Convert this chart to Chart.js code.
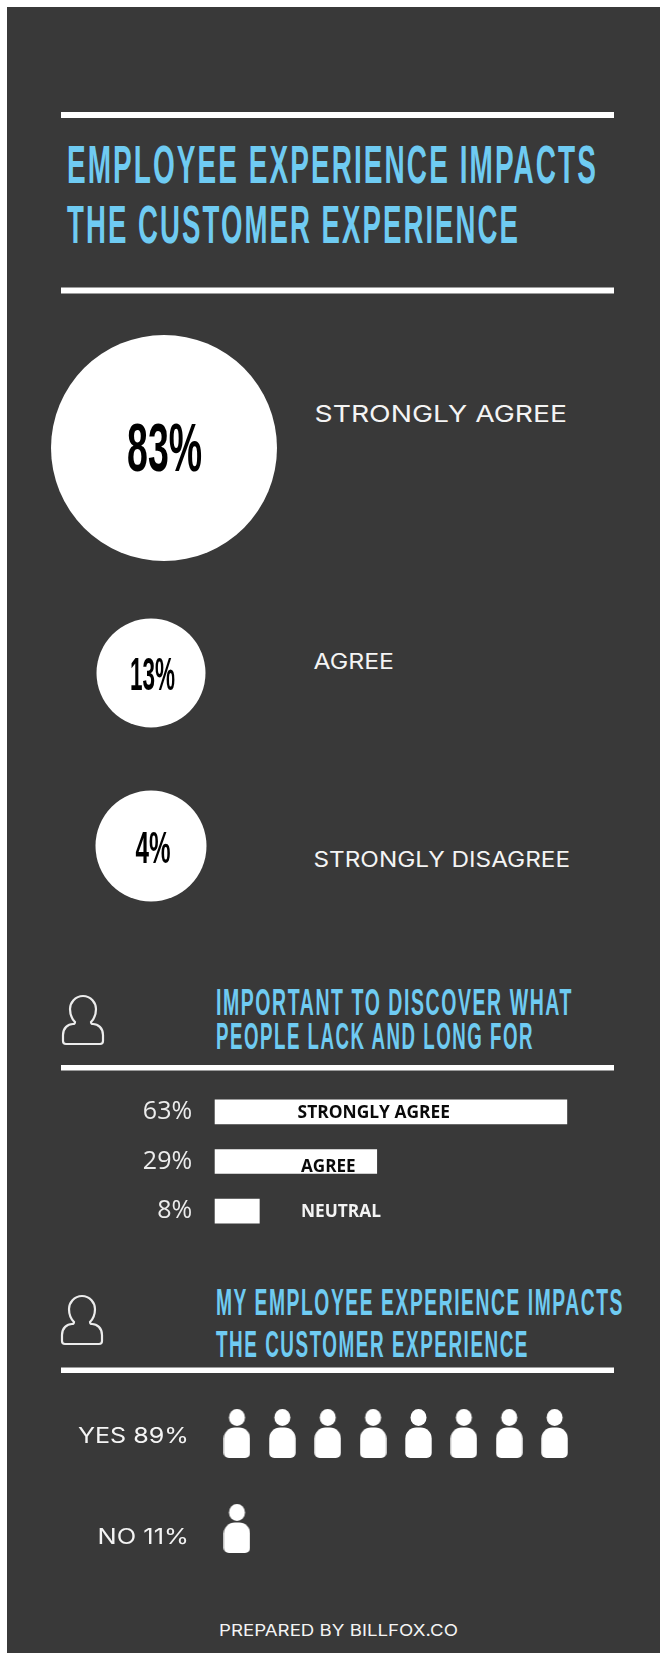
<!DOCTYPE html>
<html>
<head>
<meta charset="utf-8">
<script src="https://cdn.jsdelivr.net/npm/chart.js@4"></script>
<style>
  html, body { margin: 0; background: #fff; }
  #page { position: relative; width: 660px; height: 1653px; overflow: hidden; background: #fff; }
  #panel { position: absolute; left: 7px; top: 7px; right: 0; bottom: 0; background: #393939; }
  #page canvas, #page svg { position: absolute; }
</style>
</head>
<body>
<div id="page"><div id="panel"></div></div>
<script>
// Survey results
const headlineLines = ['EMPLOYEE EXPERIENCE IMPACTS', 'THE CUSTOMER EXPERIENCE'];
const bubbleCategories = ['STRONGLY AGREE', 'AGREE', 'STRONGLY DISAGREE'];
const bubbleValues = [83, 13, 4];

const lackLines = ['IMPORTANT TO DISCOVER WHAT', 'PEOPLE LACK AND LONG FOR'];
const lackCategories = ['STRONGLY AGREE', 'AGREE', 'NEUTRAL'];
const lackValues = [63, 29, 8];

const impactLines = ['MY EMPLOYEE EXPERIENCE IMPACTS', 'THE CUSTOMER EXPERIENCE'];
const impactCategories = ['YES', 'NO'];
const impactValues = [89, 11];
const impactIcons = [8, 1];

const footerText = 'PREPARED BY BILLFOX.CO';

// Shared look
const HEADING_BLUE = '#6fcbf2';
const INK = '#f4f4f4';
const DISPLAY = '"Liberation Sans"';
const WIDE = 'Inter';
const page = document.getElementById('page');

// Static text, rules and outline icons sit in one vector layer
const SVG_NS = 'http://www.w3.org/2000/svg';
const layer = document.createElementNS(SVG_NS, 'svg');
layer.setAttribute('width', 660);
layer.setAttribute('height', 1653);
layer.style.left = layer.style.top = '0';
page.appendChild(layer);

function svgEl(name, attrs) {
  const el = document.createElementNS(SVG_NS, name);
  for (const k in attrs) el.setAttribute(k, attrs[k]);
  layer.appendChild(el);
  return el;
}
function svgText(text, x, baseline, width, family, size, weight, fill, tracking) {
  const el = svgEl('text', {
    x, y: baseline, textLength: width, lengthAdjust: 'spacingAndGlyphs',
    'font-family': family.replace(/"/g, ''), 'font-size': size, 'font-weight': weight, fill,
    'letter-spacing': tracking || 0
  });
  el.textContent = text;
}
function rule(y, h) {
  svgEl('rect', { x: 61, y, width: 553, height: h, fill: '#fff' });
}
function outlinePerson(x, y) {
  svgEl('path', {
    transform: `translate(${x} ${y})`, fill: 'none', stroke: '#ececec', 'stroke-width': 2.2,
    d: 'M21 1C29 1 34 8 34 14C34 20 31 25 29 27C29 29 30 29 31 29C36 29 41 33 41 40L41 46Q41 49 38 49L4 49Q1 49 1 46L1 40C1 33 6 29 11 29C12 29 13 29 13 27C11 25 8 20 8 14C8 8 13 1 21 1Z'
  });
}

rule(112, 6);
rule(287.5, 6);
svgText(headlineLines[0], 67, 183, 531, DISPLAY, 54, 700, HEADING_BLUE, 4);
svgText(headlineLines[1], 67, 243, 453, DISPLAY, 54, 700, HEADING_BLUE, 4);

outlinePerson(62, 995);
svgText(lackLines[0], 216, 1015, 357, DISPLAY, 37, 700, HEADING_BLUE, 3);
svgText(lackLines[1], 216, 1048.5, 318, DISPLAY, 37, 700, HEADING_BLUE, 3);
rule(1065, 5.5);

outlinePerson(61, 1295);
svgText(impactLines[0], 216, 1315, 408, DISPLAY, 37, 700, HEADING_BLUE, 3);
svgText(impactLines[1], 216, 1357, 313, DISPLAY, 37, 700, HEADING_BLUE, 3);
rule(1367.5, 5.5);

svgText(footerText, 219, 1635.5, 239, WIDE, 16.5, 400, INK);

// Canvas text squeezed to a set width, the way the display type is set
function fitText(ctx, text, x, baseline, width, font, color) {
  ctx.save();
  ctx.font = font;
  ctx.fillStyle = color;
  ctx.textAlign = 'left';
  ctx.textBaseline = 'alphabetic';
  const natural = ctx.measureText(text).width;
  ctx.translate(x, baseline);
  ctx.scale(width / natural, 1);
  ctx.fillText(text, 0, 0);
  ctx.restore();
}

function addCanvas(left, top, width, height) {
  const c = document.createElement('canvas');
  c.width = width;
  c.height = height;
  c.style.left = left + 'px';
  c.style.top = top + 'px';
  c.style.width = width + 'px';
  c.style.height = height + 'px';
  page.appendChild(c);
  return c;
}

const baseOptions = {
  responsive: false,
  animation: false,
  events: [],
  plugins: { legend: { display: false }, tooltip: { enabled: false } }
};

// Top section: one circle per answer, each centred in its own small chart
const bubbleStyle = [
  { cx: 164,   cy: 447.5, r: 113,  labelW: 75, labelCap: 50, font: 69, dx: 0.6, dy: -2,
    nameX: 314.5, nameBase: 422, nameW: 252.5, nameSize: 23 },
  { cx: 150.5, cy: 673,   r: 54.5, labelW: 45, labelCap: 33, font: 46, dx: 1.5, dy: 0.5,
    nameX: 313.5, nameBase: 669, nameW: 80.5,  nameSize: 21 },
  { cx: 151,   cy: 846,   r: 55.5, labelW: 35, labelCap: 32, font: 45, dx: 2,   dy: 1,
    nameX: 313.5, nameBase: 867, nameW: 256.5, nameSize: 21 }
];

bubbleValues.forEach((value, i) => {
  const s = bubbleStyle[i];
  const half = Math.ceil(s.r) + 3;
  const canvas = addCanvas(s.cx - half, s.cy - half, half * 2, half * 2);
  svgText(bubbleCategories[i], s.nameX, s.nameBase, s.nameW, WIDE, s.nameSize, 400, INK);
  new Chart(canvas, {
    type: 'line',
    data: {
      labels: [bubbleCategories[i]],
      datasets: [{
        data: [value], showLine: false, clip: false,
        pointRadius: s.r, pointBackgroundColor: '#fff', pointBorderWidth: 0
      }]
    },
    options: {
      ...baseOptions,
      layout: { padding: 0, autoPadding: false },
      scales: {
        x: { display: false, offset: true },
        y: { display: false, min: 0, max: value * 2 }
      }
    },
    plugins: [{
      id: 'bubbleValue',
      afterDatasetsDraw(chart) {
        const pt = chart.getDatasetMeta(0).data[0];
        const text = value + '%';
        fitText(chart.ctx, text, pt.x + s.dx - s.labelW / 2, pt.y + s.dy + s.labelCap / 2,
          s.labelW, `700 ${s.font}px ${DISPLAY}`, '#000');
      }
    }]
  });
});

// Middle section: horizontal bars, percentages on the category axis
const lackLabelStyle = [
  { x: 297.6, w: 152.4, dy: 0,   color: '#0a0a0a' },
  { x: 301,   w: 54.6,  dy: 3.5, color: '#0a0a0a' },
  { x: 301,   w: 80,    dy: -1,  color: '#f4f4f4' }
];

new Chart(addCanvas(0, 1087, 606, 149), {
  type: 'bar',
  data: {
    labels: lackCategories,
    datasets: [{ data: lackValues, backgroundColor: '#fff', borderWidth: 0, barThickness: 24 }]
  },
  options: {
    ...baseOptions,
    indexAxis: 'y',
    layout: { padding: 0, autoPadding: false },
    scales: {
      x: { display: false, min: 0, max: 70 },
      y: {
        afterFit(axis) {
          // The plot keeps the full canvas height and a fixed gutter for the percentages
          axis.width = 214.6;
          axis.paddingTop = 0;
          axis.paddingBottom = 0;
        },
        grid: { display: false },
        border: { display: false },
        ticks: {
          padding: 14.5,
          color: '#ececec',
          font: { family: 'Open Sans', size: 25 },
          callback(_, i) { return lackValues[i] + '%'; }
        }
      }
    }
  },
  plugins: [{
    id: 'lackLabels',
    afterDatasetsDraw(chart) {
      chart.getDatasetMeta(0).data.forEach((bar, i) => {
        const s = lackLabelStyle[i];
        fitText(chart.ctx, lackCategories[i], s.x, bar.y + s.dy + 6.5, s.w,
          '700 17.5px "Open Sans"', s.color);
      });
    }
  }]
});

// Bottom section: a row of person icons per answer
function personIcon() {
  const c = document.createElement('canvas');
  c.width = 27;
  c.height = 49;
  const g = c.getContext('2d');
  g.fillStyle = '#fff';
  g.beginPath();
  g.ellipse(13.5, 8.5, 8, 8.4, 0, 0, Math.PI * 2);
  g.fill();
  g.beginPath();
  g.roundRect(0.3, 18.5, 26.4, 30.5, [11, 11, 5, 5]);
  g.fill();
  return c;
}

const impactLabelStyle = [
  { x: 78,   w: 111,  dy: 9.5 },
  { x: 97.6, w: 91.4, dy: 15.5 }
];

const impactPoints = [];
impactIcons.forEach((count, row) => {
  for (let k = 1; k <= count; k++) impactPoints.push({ x: k, y: impactCategories[row] });
});

new Chart(addCanvas(0, 1386, 660, 190), {
  type: 'scatter',
  data: {
    datasets: [{
      data: impactPoints, clip: false,
      pointStyle: personIcon(), pointRadius: 10
    }]
  },
  options: {
    ...baseOptions,
    layout: { padding: { left: 214.3, right: 82.7, top: 0, bottom: 0 }, autoPadding: false },
    scales: {
      x: { display: false, min: 0.5, max: 8.5 },
      y: { display: false, type: 'category', labels: impactCategories, offset: true }
    }
  },
  plugins: [{
    id: 'impactLabels',
    afterDatasetsDraw(chart) {
      const y = chart.scales.y;
      impactCategories.forEach((name, i) => {
        const s = impactLabelStyle[i];
        fitText(chart.ctx, `${name} ${impactValues[i]}%`, s.x, y.getPixelForValue(i) + s.dy, s.w,
          `400 21px ${WIDE}`, INK);
      });
    }
  }]
});
</script>
</body>
</html>
